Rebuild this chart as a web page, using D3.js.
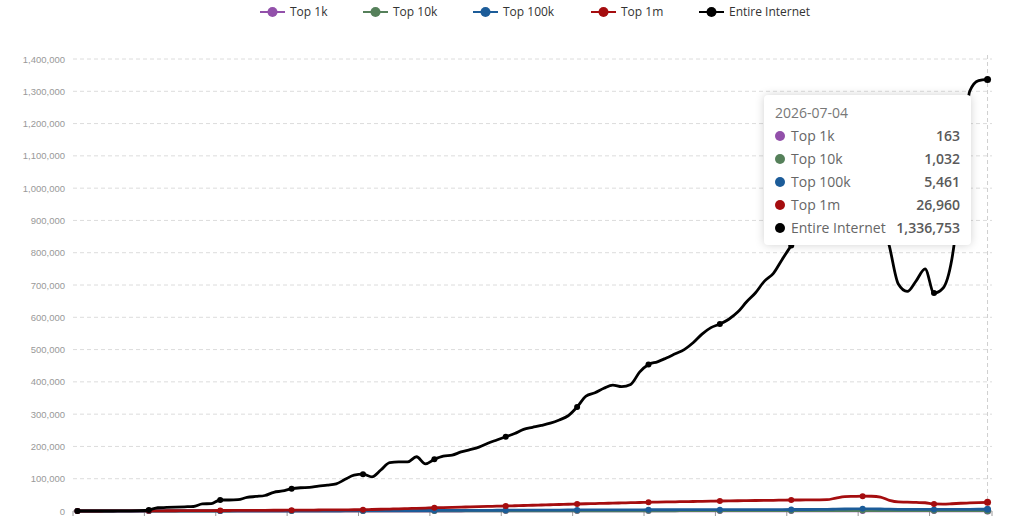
<!DOCTYPE html>
<html><head><meta charset="utf-8">
<script src="https://cdn.jsdelivr.net/npm/d3@7/dist/d3.min.js"></script>
<style>
html,body{margin:0;padding:0;background:#fff;width:1024px;height:516px;overflow:hidden;}
#wrap{position:relative;width:1024px;height:516px;}
#tip{position:absolute;background:#fff;border-radius:4px;box-shadow:0 0 10px rgba(0,0,0,0.18);font-family:"Open Sans",sans-serif;color:#666;box-sizing:border-box;}
#tip .date{font-size:14px;color:#777;margin-bottom:2px;}
#tip .row{display:flex;align-items:center;height:23px;font-size:14px;}
#tip .dot{width:10px;height:10px;border-radius:5px;margin-right:6px;flex:none;}
#tip .lab{flex:1;color:#666;}
#tip .val{font-weight:600;color:#5a5a5a;text-align:right;}
</style></head>
<body><div id="wrap"><svg id="chart" width="1024" height="516"></svg><div id="tip"></div></div>
<script>
const seriesNames = ["Top 1k","Top 10k","Top 100k","Top 1m","Entire Internet"];
const seriesColors = ["#9250aa","#55805a","#1c5c99","#a50d0f","#000000"];
const lastDate = "2026-07-04";
const pointCount = 103;
const yTicks = [0,100000,200000,300000,400000,500000,600000,700000,800000,900000,1000000,1100000,1200000,1300000,1400000];

const top1k = [0,0,0,0,0,0,0,0,
 5,6,7,8,9,10,11,12, 13,15,17,19,21,23,25,27, 29,31,33,35,37,39,41,43,
 45,48,51,54,57,60,63,66, 69,72,75,78,81,84,87,90, 93,96,99,102,105,108,111,114,
 117,120,122,124,126,128,130,132, 134,136,138,140,142,143,144,145, 146,147,148,149,150,151,152,153,
 154,155,156,158,165,180,195,205,210,205, 190,175,165,162,160,159,158,159,160,161, 161,162,163];
const top10k = [0,0,0,0,0,0,0,0,
 20,25,30,35,40,45,50,55, 60,70,80,90,100,110,120,130, 140,150,160,170,180,190,200,215,
 230,245,260,275,290,305,320,335, 350,370,390,410,430,450,470,490, 510,530,550,570,590,610,630,650,
 670,690,710,730,750,770,790,810, 820,830,840,850,860,870,880,890, 900,910,920,930,940,950,960,970,
 980,990,1000,1020,1080,1200,1320,1380,1400,1380, 1300,1150,1050,1030,1020,1010,1000,1005,1010,1015, 1020,1025,1032];
const top100k = [0,0,0,0,0,0,0,0,
 100,120,140,160,180,200,220,250, 300,330,360,400,430,470,500,530, 600,630,680,720,770,820,870,920,
 1000,1060,1120,1200,1280,1360,1440,1520, 1600,1690,1780,1870,1960,2050,2150,2250, 2400,2500,2600,2700,2800,2900,3000,3100,
 3200,3280,3350,3420,3490,3560,3630,3700, 3800,3850,3900,3950,4000,4050,4100,4150, 4200,4250,4300,4350,4400,4450,4500,4550,
 4600,4650,4700,4800,5000,5600,6200,6600,6800,6600, 6200,5600,5200,5100,5000,4900,4800,4900,5000,5100, 5200,5350,5461];
const top1m = [0,0,0,100,200,300,400,500,
 500,600,700,800,1000,1100,1300,1400, 1500,1600,1700,1900,2000,2200,2300,2400, 2500,2700,2900,3100,3300,3500,3700,3900,
 4000,4700,5400,6100,6800,7600,8400,9200, 10000,10700,11400,12100,12800,13500,14200,14900, 15500,16300,17100,17800,18600,19400,20200,20900,
 21700,22400,23000,23700,24300,25000,25700,26300, 27000,27500,28000,28500,29000,29500,30000,30500, 31000,31400,31700,32100,32500,32900,33200,33600,
 34000,34000,34300,34500,35000,40000,44500,45300,46000,45700, 43000,33000,28000,27500,26500,25500,22000,21500,22500,24000, 25000,26000,26960];
const entireInternet = [0,0,0,0,0,500,500,1000,3000,10000,
 11000,12000,13000,14000,22000,23000,34000,34000,35000,42000,
 45000,48000,58000,62000,69000,72000,73000,77000,80000,84000,
 98000,111000,114000,106000,127000,150000,152000,152000,168000,146000,
 160000,170000,173000,183000,190000,198000,210000,220000,230000,240000,
 253000,259000,265000,272000,282000,295000,322000,356000,366000,380000,
 390000,385000,392000,430000,454000,462000,474000,487000,500000,521000,
 548000,568000,579000,594000,616000,648000,676000,712000,736000,780000,
 822000,860000,900000,940000,980000,1020000,1050000,1060000,1050000,1000000,
 920000,820000,703000,680000,713000,750000,675000,690000,780000,1000000,
 1300000,1333000,1336753];
const seriesValues = [top1k, top10k, top100k, top1m, entireInternet];

// category dates (weekly, ending at lastDate)
const endDate = d3.timeParse("%Y-%m-%d")(lastDate);
const fmt = d3.timeFormat("%Y-%m-%d");
const dates = d3.range(pointCount).map(i => fmt(d3.timeDay.offset(endDate, -7*(pointCount-1-i))));

const svg = d3.select("#chart");
const L = 73, R = 992, T = 59, B = 511;
const x = d3.scaleBand().domain(dates).range([L, R]);
const cx = d => x(d) + x.bandwidth()/2;
const y = d3.scaleLinear().domain([0, 1400000]).range([B, T]);

// grid
svg.append("g").selectAll("line").data(yTicks.filter(v => v > 0)).join("line")
  .attr("x1", L).attr("x2", R).attr("y1", d => y(d)).attr("y2", d => y(d))
  .attr("stroke", "#dcdcdc").attr("stroke-width", 1).attr("stroke-dasharray", "4,3");

// y axis labels
const yAxis = d3.axisLeft(y).tickValues(yTicks).tickSize(0).tickPadding(8).tickFormat(d3.format(","));
const gy = svg.append("g").attr("transform", `translate(${L},0)`).call(yAxis);
gy.select(".domain").remove();
gy.selectAll("text").attr("fill", "#999").attr("font-size", "9.5px").attr("font-family", "'Liberation Sans', Arial, sans-serif");

// x axis
const tickIdx = d3.range(0, pointCount, 8);
const gx = svg.append("g").attr("transform", `translate(0,${B})`);
gx.append("line").attr("x1", L).attr("x2", R).attr("stroke", "#9a9a9a").attr("stroke-width", 1);
gx.selectAll(".tk").data(tickIdx.map(i => dates[i]).concat(["__end"])).join("line")
  .attr("x1", d => d === "__end" ? R : x(d)).attr("x2", d => d === "__end" ? R : x(d))
  .attr("y1", 0).attr("y2", 5).attr("stroke", "#9a9a9a");

// axis pointer
const lastIdx = pointCount - 1;
svg.append("line").attr("x1", cx(dates[lastIdx])).attr("x2", cx(dates[lastIdx]))
  .attr("y1", T - 4).attr("y2", B).attr("stroke", "#cfcfcf").attr("stroke-dasharray", "4,3");

// lines
const line = d3.line().x((v, i) => cx(dates[i])).y(v => y(v)).curve(d3.curveMonotoneX);
seriesValues.forEach((vals, s) => {
  svg.append("path").attr("d", line(vals)).attr("fill", "none")
    .attr("stroke", seriesColors[s]).attr("stroke-width", s === 4 ? 2.8 : 2.8)
    .attr("stroke-linejoin", "round").attr("stroke-linecap", "round");
  const idx = tickIdx.concat([lastIdx]);
  svg.append("g").selectAll("circle").data(idx).join("circle")
    .attr("cx", i => cx(dates[i])).attr("cy", i => y(vals[i])).attr("r", i => i === lastIdx ? 3.5 : 3)
    .attr("fill", seriesColors[s]);
});

// legend
const legendX = [260, 363, 473, 591, 699];
const lg = svg.append("g");
seriesNames.forEach((n, s) => {
  const g = lg.append("g").attr("transform", `translate(${legendX[s]},12)`);
  g.append("line").attr("x1", 0).attr("x2", 25).attr("stroke", seriesColors[s]).attr("stroke-width", 2);
  g.append("circle").attr("cx", 12.5).attr("r", 5).attr("fill", seriesColors[s]);
  g.append("text").attr("x", 30).attr("dy", "0.35em").text(n)
    .attr("font-family", "'Open Sans', sans-serif").attr("font-size", "12px").attr("fill", "#333");
});

// tooltip
const tip = d3.select("#tip").style("left", "764px").style("top", "95px").style("width", "207px").style("height", "150px")
  .style("padding", "8px 11px 0 11px");
tip.append("div").attr("class", "date").text(lastDate);
seriesNames.forEach((n, s) => {
  const r = tip.append("div").attr("class", "row");
  r.append("div").attr("class", "dot").style("background", seriesColors[s]);
  r.append("div").attr("class", "lab").text(n);
  r.append("div").attr("class", "val").text(d3.format(",")(seriesValues[s][lastIdx]));
});
</script></body></html>
